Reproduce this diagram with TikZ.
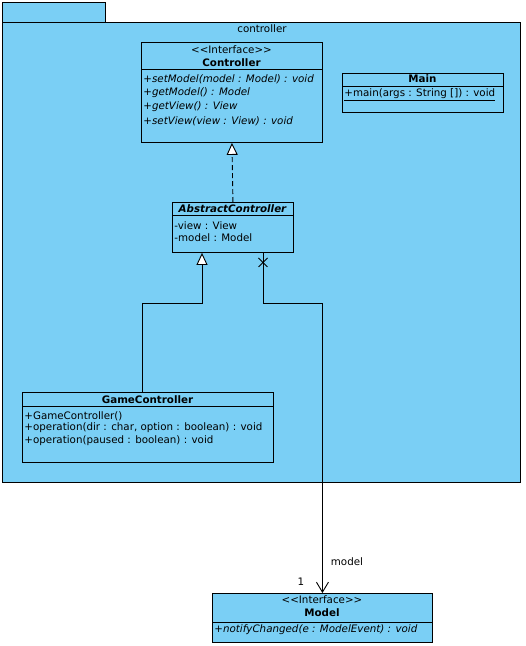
\documentclass[tikz,border=0pt]{standalone}
\usepackage{fontspec}
\setmainfont{DejaVu Sans}
\usetikzlibrary{arrows.meta}

\definecolor{vpblue}{RGB}{122,207,245}

\tikzset{
  umlbox/.style={draw, fill=vpblue, line width=0.9pt, anchor=north west, inner sep=0pt},
  member/.style={anchor=west, inner sep=0pt, font=\fontsize{10.3}{12}\selectfont},
  classname/.style={inner sep=0pt, font=\bfseries\fontsize{10.3}{12}\selectfont},
  stereo/.style={inner sep=0pt, font=\fontsize{10.3}{12}\selectfont},
  hollow/.style={-{Triangle[length=12pt,width=11pt,fill=white]}},
  navig/.style={-{Straight Barb[length=10pt,width=12pt]}},
}

\begin{document}
\begin{tikzpicture}[x=1pt,y=-1pt,line width=0.9pt]
  \useasboundingbox (0,0) rectangle (526,646);

  % package controller
  \node[umlbox, minimum width=103pt, minimum height=20pt] (tab) at (2,2) {};
  \node[umlbox, minimum width=518pt, minimum height=460pt] (pkg) at (2,22) {};
  \node[stereo] (pkgname) at (262,29) {controller};

  % Controller interface
  \node[umlbox, minimum width=181pt, minimum height=100pt] (ctrl) at (141,42) {};
  \node[stereo] (ctrlstereo) at (231.5,50) {<{}<Interface>{}>};
  \node[classname] (ctrlname) at (231.5,63) {Controller};
  \draw (ctrl.west |- 0,69) -- (ctrl.east |- 0,69);
  \foreach \y/\txt in {
    79/{+setModel(model : Model) : void},
    93/{+getModel() : Model},
    107/{+getView() : View},
    121/{+setView(view : View) : void}} {
    \node[member] at (143,\y) {\itshape \txt};
  }

  % Main
  \node[umlbox, minimum width=161pt, minimum height=39pt] (main) at (342,73) {};
  \node[classname] (mainname) at (422.5,79) {Main};
  \draw (main.west |- 0,86) -- (main.east |- 0,86);
  \node[member] (mainop) at (344,95) {\underline{+main(args : String []) : void}};

  % AbstractController
  \node[umlbox, minimum width=121pt, minimum height=50pt] (abs) at (172,202) {};
  \node[classname] (absname) at (232.5,209) {\itshape AbstractController};
  \draw (abs.west |- 0,215) -- (abs.east |- 0,215);
  \node[member] (absview) at (174,226) {-view : View};
  \node[member] (absmodel) at (174,238) {-model : Model};

  % GameController
  \node[umlbox, minimum width=251pt, minimum height=70pt] (gc) at (22,392) {};
  \node[classname] (gcname) at (147.5,400) {GameController};
  \draw (gc.west |- 0,406) -- (gc.east |- 0,406);
  \foreach \y/\txt in {
    416/{+GameController()},
    428/{+operation(dir : char, option : boolean) : void},
    441/{+operation(paused : boolean) : void}} {
    \node[member] at (24,\y) {\txt};
  }

  % Model interface
  \node[umlbox, minimum width=220pt, minimum height=49pt] (model) at (212,593) {};
  \node[stereo] (modelstereo) at (322,600) {<{}<Interface>{}>};
  \node[classname] (modelname) at (322,613) {Model};
  \draw (model.west |- 0,622) -- (model.east |- 0,622);
  \node[member] (modelop) at (214,630) {\itshape +notifyChanged(e : ModelEvent) : void};

  % realization
  \draw[hollow, dash pattern=on 5pt off 3pt] (abs.north) -- (ctrl.south);

  % generalization
  \coordinate (gcup) at ([xshift=120pt]gc.north west);
  \coordinate (absin) at ([xshift=30pt]abs.south west);
  \draw[hollow] (gcup) -- (gcup |- 0,303) -| (absin);

  % association with model
  \coordinate (absout) at ([xshift=91pt]abs.south west);
  \draw[navig] (absout) -- (absout |- 0,303) -| (model.north);
  \draw ([shift={(-4.5pt,-5pt)}]absout) -- ([shift={(4.5pt,-14pt)}]absout)
        ([shift={(4.5pt,-5pt)}]absout) -- ([shift={(-4.5pt,-14pt)}]absout);
  \node[stereo] (rolename) at (347,562) {model};
  \node[stereo] (mult) at (301,582) {1};
\end{tikzpicture}
\end{document}
